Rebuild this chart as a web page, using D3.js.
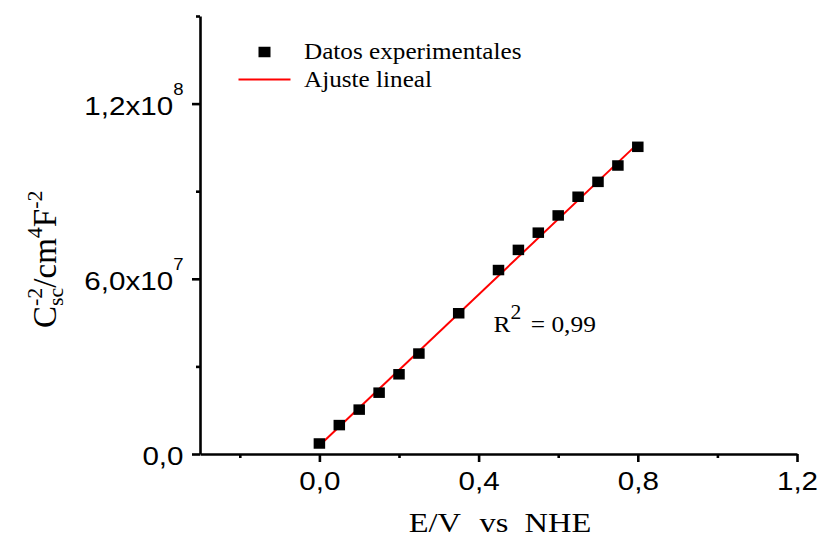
<!DOCTYPE html>
<html>
<head>
<meta charset="utf-8">
<script src="https://cdn.jsdelivr.net/npm/d3@7"></script>
<style>
  html, body { margin: 0; padding: 0; background: #fff; }
  svg { display: block; }
</style>
</head>
<body>
<svg id="chart" width="821" height="538"></svg>
<script>
// Mott–Schottky data: electrode potential (V vs NHE) and C_sc^-2 (cm^4 F^-2)
const potential = [0.00, 0.05, 0.10, 0.15, 0.20, 0.25, 0.35, 0.45, 0.50, 0.55, 0.60, 0.65, 0.70, 0.75, 0.80];
const invCapSq  = [3.6e6, 9.9e6, 1.52e7, 2.10e7, 2.73e7, 3.44e7, 4.82e7, 6.30e7, 6.99e7, 7.58e7, 8.17e7, 8.81e7, 9.32e7, 9.88e7, 1.052e8];

// end points of the linear fit
const fitPotential = [0.0, 0.8];
const fitValue     = [2.9e6, 1.063e8];

// axis ticks and labels
const xMajorTicks = [0.0, 0.4, 0.8, 1.2];
const xMinorTicks = [-0.2, 0.2, 0.6, 1.0];
const xTickLabels = ["0,0", "0,4", "0,8", "1,2"];
const yMajorTicks = [0, 6e7, 1.2e8];
const yMinorTicks = [3e7, 9e7, 1.5e8];
const yTickMantissa = ["0,0", "6,0x10", "1,2x10"];
const yTickExponent = ["", "7", "8"];

const legendLabels = ["Datos experimentales", "Ajuste lineal"];
const r2Text = "0,99";

const SANS = "'Liberation Sans', Arial, sans-serif";
const SERIF = "'Liberation Serif', 'Times New Roman', serif";
const SX = 1.16;     // horizontal widening of the glyphs
const AXIS_W = 2.6;

const svg = d3.select("#chart");

const x = d3.scaleLinear().domain([-0.3, 1.2]).range([200, 797]);
const y = d3.scaleLinear().domain([0, 1.5e8]).range([454, 16]);

// ---- x axis ----
const gx = svg.append("g").attr("transform", `translate(0,${y(0)})`);
gx.call(d3.axisBottom(x).tickValues(xMinorTicks).tickSize(4).tickSizeOuter(0).tickFormat(""))
  .call(g => g.select(".domain").remove())
  .call(g => g.selectAll(".tick line").attr("stroke-width", AXIS_W));
const gxMajor = gx.append("g").call(
  d3.axisBottom(x).tickValues(xMajorTicks).tickSize(8).tickSizeOuter(0)
    .tickFormat(d => xTickLabels[xMajorTicks.indexOf(d)]));
gxMajor.select(".domain").attr("stroke-width", AXIS_W);
gxMajor.selectAll(".tick line").attr("stroke-width", AXIS_W);
gxMajor.selectAll(".tick text")
  .attr("font-family", SANS).attr("font-size", 25.5).attr("fill", "#000")
  .attr("y", 0).attr("dy", 0)
  .attr("transform", `translate(0,36) scale(${SX},1)`);

// ---- y axis ----
const gy = svg.append("g").attr("transform", `translate(${x(-0.3)},0)`);
gy.call(d3.axisLeft(y).tickValues(yMinorTicks).tickSize(4).tickSizeOuter(0).tickFormat(""))
  .call(g => g.select(".domain").remove())
  .call(g => g.selectAll(".tick line").attr("stroke-width", AXIS_W));
const gyMajor = gy.append("g").call(
  d3.axisLeft(y).tickValues(yMajorTicks).tickSize(8).tickSizeOuter(0).tickFormat(""));
gyMajor.select(".domain").attr("stroke-width", AXIS_W);
gyMajor.selectAll(".tick line").attr("stroke-width", AXIS_W);
gyMajor.selectAll(".tick text").each(function (d) {
  const i = yMajorTicks.indexOf(d);
  const t = d3.select(this)
    .text(null)
    .attr("x", 0).attr("y", 0).attr("dy", 0)
    .attr("font-family", SANS).attr("fill", "#000")
    .attr("text-anchor", "end")
    .attr("transform", `translate(-16.5,10.5) scale(${SX},1)`);
  t.append("tspan").attr("font-size", 25.5).text(yTickMantissa[i]);
  if (yTickExponent[i]) {
    t.append("tspan").attr("font-size", 16).attr("dy", -20).text(yTickExponent[i]);
  }
});

// ---- linear fit ----
const fitLine = d3.line().x(d => x(d[0])).y(d => y(d[1]));
svg.append("path")
  .datum(d3.zip(fitPotential, fitValue))
  .attr("d", fitLine)
  .attr("fill", "none")
  .attr("stroke", "#ff0000")
  .attr("stroke-width", 2);

// ---- experimental points ----
const MW = 11.5, MH = 10.5;
svg.append("g").selectAll("rect")
  .data(d3.zip(potential, invCapSq))
  .join("rect")
  .attr("x", d => x(d[0]) - MW / 2)
  .attr("y", d => y(d[1]) - MH / 2)
  .attr("width", MW)
  .attr("height", MH)
  .attr("fill", "#000");

// ---- legend ----
const legend = svg.append("g");
legend.append("rect")
  .attr("x", 264.5 - 6).attr("y", 52 - 5.25)
  .attr("width", 12).attr("height", 10.5)
  .attr("fill", "#000");
legend.append("line")
  .attr("x1", 238.5).attr("x2", 290.5)
  .attr("y1", 79.5).attr("y2", 79.5)
  .attr("stroke", "#ff0000").attr("stroke-width", 2.2);
legend.selectAll("text")
  .data(legendLabels)
  .join("text")
  .attr("transform", (d, i) => `translate(304,${59.3 + i * 28}) scale(1.12,1)`)
  .attr("font-family", SERIF)
  .attr("font-size", 22.5)
  .attr("fill", "#000")
  .text(d => d);

// ---- R² annotation ----
const r2 = svg.append("text")
  .attr("transform", `translate(493.5,332.3) scale(1.08,1)`)
  .attr("font-family", SERIF)
  .attr("font-size", 23.5)
  .attr("fill", "#000")
  .attr("xml:space", "preserve")
  .style("white-space", "pre");
r2.append("tspan").text("R");
r2.append("tspan").attr("font-size", 20).attr("dy", -13).text("2");
r2.append("tspan").attr("dy", 13).attr("dx", 3).text(" = " + r2Text);

// ---- x axis title ----
const xt = svg.append("text")
  .attr("transform", `translate(500,532) scale(${SX},1)`)
  .attr("text-anchor", "middle")
  .attr("font-family", SERIF)
  .attr("font-size", 28)
  .attr("fill", "#000");
xt.append("tspan").text("E/V");
xt.append("tspan").attr("dx", 16).text("vs");
xt.append("tspan").attr("dx", 14).text("NHE");

// ---- y axis title: C_sc^-2 / cm^4 F^-2 ----
const MAIN = 33, SMALL = 22, UP = 14, DOWN = 7;
const yt = svg.append("text")
  .attr("transform", "translate(56,328) rotate(-90)")
  .attr("font-family", SERIF)
  .attr("font-size", MAIN)
  .attr("fill", "#000");
yt.append("tspan").text("C");
const supC = yt.append("tspan").attr("font-size", SMALL).attr("dy", -UP).text("-2");
const supW = supC.node().getComputedTextLength();
yt.append("tspan").attr("font-size", SMALL).attr("dx", -supW).attr("dy", UP + DOWN).text("sc");
yt.append("tspan").attr("dy", -DOWN).text("/cm");
yt.append("tspan").attr("font-size", SMALL).attr("dy", -UP).text("4");
yt.append("tspan").attr("dy", UP).text("F");
yt.append("tspan").attr("font-size", SMALL).attr("dy", -UP).text("-2");
</script>
</body>
</html>
